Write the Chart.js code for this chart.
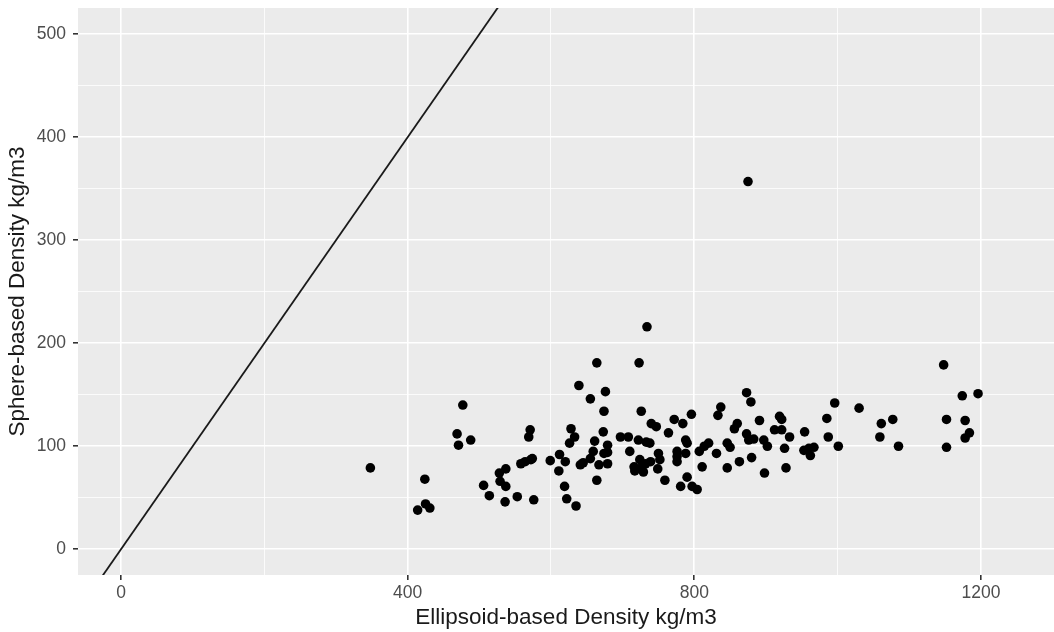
<!DOCTYPE html>
<html>
<head>
<meta charset="utf-8">
<script src="https://cdn.jsdelivr.net/npm/chart.js@4.4.1/dist/chart.umd.min.js"></script>
<style>
  html, body { margin: 0; padding: 0; background: #ffffff; }
  #wrap { width: 1054px; height: 632px; }
</style>
</head>
<body>
<div id="wrap"><canvas id="c" width="1054" height="632"></canvas></div>
<script>
// Ellipsoid-based density (kg/m3) of each sample
const ellipsoidDensity = [
  348, 424, 414, 425, 431, 469, 471, 488, 477, 506,
  514, 528, 537, 529, 537, 536, 553, 576, 558, 564,
  572, 574, 571, 569, 599, 612, 620, 611, 619, 622,
  635, 639, 628, 633, 626, 641, 734, 664, 723, 676,
  655, 674, 726, 673, 697, 708, 722, 733, 738, 740,
  747, 764, 772, 784, 796, 788, 790, 837, 833, 661,
  659, 655, 645, 667, 679, 679, 674, 679, 664, 710,
  716, 717, 727, 732, 739, 750, 752, 749, 724, 729,
  759, 776, 776, 776, 788, 781, 790, 797, 804, 807,
  814, 820, 831, 811, 846, 846, 873, 879, 875, 996,
  1030, 860, 856, 891, 919, 922, 912, 922, 933, 873,
  876, 883, 850, 897, 902, 926, 954, 985, 987, 1001,
  953, 960, 967, 962, 880, 863, 898, 928, 1148, 1174,
  1196, 1061, 1077, 1059, 1085, 1152, 1178, 1184, 1178, 1152
];

// Sphere-based density (kg/m3) of the same samples
const sphereDensity = [
  79, 68, 38, 44, 40, 112, 101, 106, 140, 62,
  52, 74, 78, 66, 61, 46, 51, 48, 83, 85,
  87, 88, 116, 109, 86, 92, 85, 76, 61, 49,
  42, 159, 117, 109, 103, 82, 216, 181, 181, 153,
  146, 134, 134, 114, 109, 109, 106, 104, 103, 122,
  119, 113, 126, 122, 131, 106, 103, 138, 130, 105,
  95, 88, 84, 82, 101, 94, 93, 83, 67, 95,
  80, 76, 80, 83, 85, 93, 87, 78, 87, 75,
  67, 95, 90, 85, 93, 61, 70, 61, 58, 95,
  100, 103, 93, 80, 103, 79, 152, 143, 357, 142,
  137, 122, 117, 125, 129, 126, 116, 116, 109, 112,
  106, 107, 99, 106, 100, 98, 114, 127, 109, 100,
  96, 98, 99, 91, 89, 85, 74, 79, 179, 149,
  151, 122, 126, 109, 100, 126, 125, 113, 108, 99
];

// 1:1 reference line (sphere = ellipsoid)
const identityLine = [-100, 700];

// Axis ticks
const xTickLabels = [0, 400, 800, 1200];
const yTickLabels = [0, 100, 200, 300, 400, 500];
const xRange = [-60, 1302];
const yRange = [-25, 525.5];

const points = ellipsoidDensity.map((x, i) => ({ x: x, y: sphereDensity[i] }));
const linePts = identityLine.map(v => ({ x: v, y: v }));

// major ticks plus the minor midpoints between them
function withMinor(majors, lo, hi) {
  const step = majors[1] - majors[0];
  const out = [];
  for (let v = majors[0] - step; v <= majors[majors.length - 1] + step; v += step / 2) {
    if (v >= lo && v <= hi) out.push(v);
  }
  return out;
}

const panelBg = {
  id: 'panelBg',
  beforeDraw(chart) {
    const a = chart.chartArea, ctx = chart.ctx;
    ctx.save();
    ctx.fillStyle = '#EBEBEB';
    ctx.fillRect(a.left, a.top, a.right - a.left, a.bottom - a.top);
    ctx.restore();
  }
};

const tickFont = { family: '"Liberation Sans", Arial, sans-serif', size: 17.5 };
const titleFont = { family: '"Liberation Sans", Arial, sans-serif', size: 22.5 };

function gridOpts(labels) {
  return {
    drawOnChartArea: true,
    drawTicks: true,
    tickLength: 5,
    color: '#FFFFFF',
    lineWidth: ctx => labels.includes(ctx.tick && ctx.tick.value) ? 1.6 : 0.8,
    tickColor: ctx => labels.includes(ctx.tick && ctx.tick.value) ? '#333333' : 'rgba(0,0,0,0)',
    tickWidth: 1.6
  };
}

function noPad(s) {
  s.paddingTop = 0; s.paddingBottom = 0; s.paddingLeft = 0; s.paddingRight = 0;
}

new Chart(document.getElementById('c'), {
  type: 'scatter',
  data: {
    datasets: [
      {
        type: 'line',
        data: linePts,
        borderColor: '#1a1a1a',
        borderWidth: 1.8,
        pointRadius: 0,
        fill: false,
        order: 2
      },
      {
        data: points,
        backgroundColor: '#000000',
        borderColor: '#000000',
        borderWidth: 0,
        pointRadius: 4.8,
        order: 1
      }
    ]
  },
  plugins: [panelBg],
  options: {
    responsive: false,
    animation: false,
    devicePixelRatio: 1,
    layout: { autoPadding: false, padding: { top: 8, right: 0, left: 0, bottom: 0 } },
    plugins: { legend: { display: false }, tooltip: { enabled: false } },
    scales: {
      x: {
        type: 'linear',
        min: xRange[0],
        max: xRange[1],
        border: { display: false },
        grid: gridOpts(xTickLabels),
        afterBuildTicks: s => { s.ticks = withMinor(xTickLabels, xRange[0], xRange[1]).map(v => ({ value: v })); },
        afterFit: s => { s.height = 57; noPad(s); },
        ticks: {
          autoSkip: false,
          maxRotation: 0,
          padding: 3,
          color: '#4D4D4D',
          font: tickFont,
          callback: v => xTickLabels.includes(v) ? String(v) : ''
        },
        title: {
          display: true,
          text: 'Ellipsoid-based Density kg/m3',
          color: '#1a1a1a',
          font: titleFont,
          padding: { top: 0, bottom: 1 }
        }
      },
      y: {
        type: 'linear',
        min: yRange[0],
        max: yRange[1],
        border: { display: false },
        grid: gridOpts(yTickLabels),
        afterBuildTicks: s => { s.ticks = withMinor(yTickLabels, yRange[0], yRange[1]).map(v => ({ value: v })); },
        afterFit: s => { s.width = 78; noPad(s); },
        ticks: {
          autoSkip: false,
          padding: 7,
          color: '#4D4D4D',
          font: tickFont,
          callback: v => yTickLabels.includes(v) ? String(v) : ''
        },
        title: {
          display: true,
          text: 'Sphere-based Density kg/m3',
          color: '#1a1a1a',
          font: titleFont,
          padding: { top: 4, bottom: 0 }
        }
      }
    }
  }
});
</script>
</body>
</html>
